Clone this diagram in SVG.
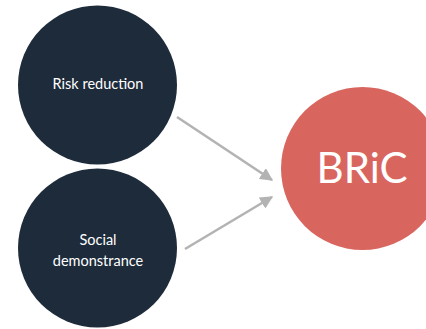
<svg xmlns="http://www.w3.org/2000/svg" width="426" height="329" viewBox="0 0 426 329">
  <defs>
    <style>
      .dark { fill: #1e2b3b; }
      .accent { fill: #d9655f; }
      .lbl { font-family: Lato, "Open Sans", "DejaVu Sans", sans-serif; fill: #ffffff; text-anchor: middle; }
      .small { font-size: 14.5px; }
      .big { font-size: 42px; }
      .conn { stroke: #b3b3b3; stroke-width: 2.6; fill: none; marker-end: url(#head); }
    </style>
    <marker id="head" viewBox="0 0 10 10" refX="9" refY="5" markerWidth="5" markerHeight="5" orient="auto" markerUnits="strokeWidth">
      <path d="M0,0 L10,5 L0,10 Z" fill="#b3b3b3"/>
    </marker>
  </defs>
  <rect width="426" height="329" fill="#ffffff"/>

  <g id="connectors">
    <line class="conn" x1="177" y1="117" x2="272" y2="180"/>
    <line class="conn" x1="185" y1="249" x2="272" y2="197"/>
  </g>

  <g id="risk-reduction">
    <circle class="dark" cx="97.5" cy="85" r="79.5"/>
    <text class="lbl small" x="98" y="89">Risk reduction</text>
  </g>

  <g id="social-demonstrance">
    <circle class="dark" cx="97.5" cy="248" r="79.5"/>
    <text class="lbl small" x="98" y="245">Social</text>
    <text class="lbl small" x="98" y="266">demonstrance</text>
  </g>

  <g id="bric">
    <circle class="accent" cx="362.5" cy="168.5" r="81.5"/>
    <text class="lbl big" x="362" y="183">BRiC</text>
  </g>
</svg>
